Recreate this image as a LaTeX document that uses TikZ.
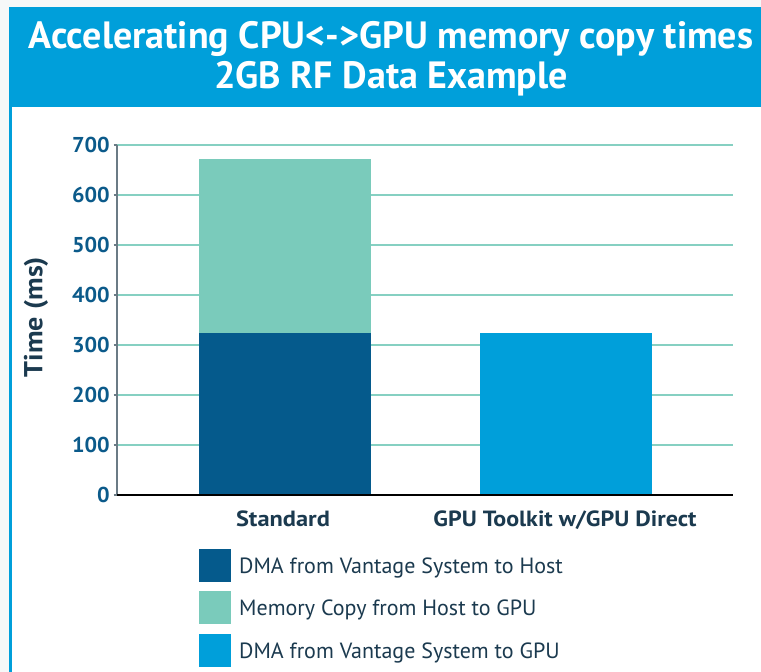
\documentclass[tikz,border=0pt]{standalone}
\usepackage{fontspec}
\setmainfont{PT Sans}

% palette
\definecolor{pagebg}{HTML}{F6F8F8}
\definecolor{headblue}{HTML}{009FDA}
\definecolor{dmahost}{HTML}{055A8C}
\definecolor{memcopy}{HTML}{7ACBBB}
\definecolor{dmagpu}{HTML}{009FDA}
\definecolor{gridteal}{HTML}{86D0C2}
\definecolor{ticktext}{HTML}{0B5A8A}
\definecolor{navytext}{HTML}{1B3A4F}
\definecolor{axisgrey}{HTML}{6B7B85}

% horizontally widened text
\newcommand{\widetext}[2]{\scalebox{#1}[1]{#2}}

\tikzset{
  titletext/.style={text=white, font=\bfseries\fontsize{38}{40}\selectfont, inner sep=0pt, anchor=base},
  ticklabel/.style={text=ticktext, font=\bfseries\fontsize{21.5}{24}\selectfont, inner sep=0pt, anchor=east},
  catlabel/.style={text=navytext, font=\bfseries\fontsize{22}{24}\selectfont, inner sep=0pt, anchor=base},
  legendtext/.style={text=navytext, font=\fontsize{22}{24}\selectfont, inner sep=0pt, anchor=base west},
  gridline/.style={draw=gridteal, line width=1.4pt},
  legendkey/.style={inner sep=0pt, minimum width=32pt, minimum height=33pt, anchor=north west},
}

\begin{document}
\begin{tikzpicture}[x=1pt,y=-1pt]
\useasboundingbox (0,0) rectangle (761,672);

% page, panel and header band
\fill[pagebg] (0,0) rectangle (761,672);
\fill[white] (9,107) rectangle (761,672);
\fill[headblue] (9,7) rectangle (761,107);
\fill[headblue] (9,107) rectangle (11.5,672);

% title
\node[titletext] (title1) at (391,48) {Accelerating CPU<->GPU memory copy times};
\node[titletext] (title2) at (391,88) {2GB RF Data Example};

% horizontal grid (50 units of height per 100 ms, zero at y=495)
\foreach \v in {100,200,...,700}{
  \draw[gridline] (117,{495-\v/2}) -- (733,{495-\v/2});
}

% stacked bar: Standard
\fill[dmahost] (199,495) rectangle (371,332.5);
\fill[memcopy] (199,332.5) rectangle (371,159);
% single bar: GPU Toolkit w/GPU Direct
\fill[dmagpu] (480,495) rectangle (652,332.5);

% axes
\draw[axisgrey, line width=1.4pt] (117,144.5) -- (117,495);
\foreach \v in {0,100,...,700}{
  \draw[axisgrey, line width=1.2pt] (113.5,{495-\v/2}) -- (117,{495-\v/2});
  \node[ticklabel] (tick\v) at (110,{495-\v/2}) {\widetext{1.03}{\v}};
}
\draw[black, line width=1.2pt] (117,495) -- (733,495);

% axis title
\node[text=navytext, font=\bfseries\fontsize{26}{28}\selectfont, rotate=90, inner sep=0pt] (ylabel) at (36,317) {\widetext{1.08}{Time (ms)}};

% category labels
\node[catlabel] (catstd) at (283,526) {\widetext{1.11}{Standard}};
\node[catlabel] (catgpu) at (565,526) {\widetext{1.09}{GPU Toolkit w/GPU Direct}};

% legend
\node[legendkey, fill=dmahost] (key1) at (199,549) {};
\node[legendkey, fill=memcopy] (key2) at (199,591) {};
\node[legendkey, fill=dmagpu]  (key3) at (199,634) {};
\node[legendtext] (lab1) at (239,573) {DMA from Vantage System to Host};
\node[legendtext] (lab2) at (239,615) {Memory Copy from Host to GPU};
\node[legendtext] (lab3) at (239,658) {DMA from Vantage System to GPU};
\end{tikzpicture}
\end{document}
